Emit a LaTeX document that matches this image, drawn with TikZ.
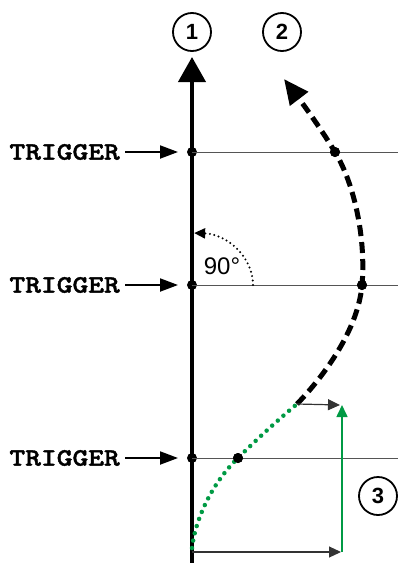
\documentclass[tikz,border=0pt]{standalone}
\usepackage{fontspec}
\setmainfont{Liberation Sans}
\newfontfamily\trigfont{lmmonolt10-bold.otf}[FakeBold=1.5]
\usetikzlibrary{arrows.meta,positioning}
\definecolor{SwingGreen}{HTML}{009A44}
\definecolor{LevelGray} {HTML}{555555}

\tikzset{
  trig/.style={font=\trigfont\fontsize{25}{25}\selectfont,inner sep=0pt,
    xscale=1.2,transform shape},
  marker/.style={circle,fill=black,inner sep=0pt,minimum size=10pt},
  num/.style={circle,draw,line width=1.8pt,minimum size=38pt,inner sep=0pt,
    font=\bfseries\fontsize{22}{22}\selectfont},
  level/.style={LevelGray,line width=0.9pt},
  feed/.style={line width=2pt,-{Triangle[length=18pt,width=13pt]}},
  shiftarrow/.style={line width=1.2pt,-{Triangle[length=12pt,width=11pt]}}
}

\begin{document}
\begin{tikzpicture}[x=1pt,y=-1pt]
  \useasboundingbox (0,0) rectangle (398,563);
  % Axis and numbers
  \coordinate (base) at (192,563);
  \coordinate (top)  at (192,57);
  \draw[line width=4pt,-{Triangle[length=25pt,width=27pt]}] (base) -- (top);
  \node[num] (n1) at (192,32) {1};
  \node[num] (n2) at (282,32) {2};
  \node[num] (n3) at (378,496) {3};
  % Trigger levels
  \coordinate (e1) at (398,152);
  \coordinate (e2) at (398,285);
  \coordinate (e3) at (398,458);
  \node[marker] (t1) at (192,152) {};
  \node[marker] (t2) at (192,285) {};
  \node[marker] (t3) at (192,458) {};
  \draw[level] (t1.center) -- (e1);
  \draw[level] (t2.center) -- (e2);
  \draw[level] (t3.center) -- (e3);
  \node[trig,anchor=east] (lab1) at (120,152) {TRIGGER};
  \node[trig,anchor=east] (lab2) at (120,285) {TRIGGER};
  \node[trig,anchor=east] (lab3) at (120,458) {TRIGGER};
  \draw[feed] ([xshift=5pt]lab1.east) -- ([xshift=-14pt]t1.center);
  \draw[feed] ([xshift=5pt]lab2.east) -- ([xshift=-14pt]t2.center);
  \draw[feed] ([xshift=5pt]lab3.east) -- ([xshift=-14pt]t3.center);
  % Phase angle
  \coordinate (a0) at (253,285);
  \draw[line width=2.2pt,dash pattern=on 0pt off 4.5pt,line cap=round,
    -{Triangle[length=11pt,width=10pt]}]
    (a0) arc[start angle=0,end angle=88,x radius=61pt,y radius=52pt];
  \node[font=\fontsize{24}{24}\selectfont] (deg) at (222,266) {90°};
  % Curve
  \coordinate (c0) at (192,548);
  \coordinate (c1) at (297,404);
  \coordinate (c2) at (284,79);
  \node[marker] (d1) at (335,152) {};
  \node[marker] (d2) at (362,285) {};
  \node[marker] (d3) at (238,458) {};
  \draw[SwingGreen,line width=4.5pt,dash pattern=on 0pt off 7.5pt,line cap=round]
    (c0) .. controls (196,515) and (215,480) .. (d3.center)
         .. controls (258,438) and (278,420) .. (c1);
  \draw[line width=5pt,dash pattern=on 11pt off 6pt,
    -{Triangle[length=25pt,width=22pt]}]
    (c1) .. controls (324,376) and (358,330) .. (d2.center)
         .. controls (366,240) and (355,185) .. (d1.center)
         .. controls (320,127) and (300,100) .. (c2);
  \node[marker] at (d1) {};
  \node[marker] at (d2) {};
  \node[marker] at (d3) {};
  % Shift
  \coordinate (b1) at (192,552);
  \coordinate (b2) at (342,552);
  \coordinate (g)  at (342,405);
  \draw[shiftarrow,LevelGray!60!black] (b1) -- ([xshift=-1pt]b2);
  \draw[shiftarrow,LevelGray!60!black] (c1) -- ([xshift=-2pt]g);
  \draw[shiftarrow,SwingGreen,line width=1.6pt] (b2) -- (g);
\end{tikzpicture}
\end{document}
